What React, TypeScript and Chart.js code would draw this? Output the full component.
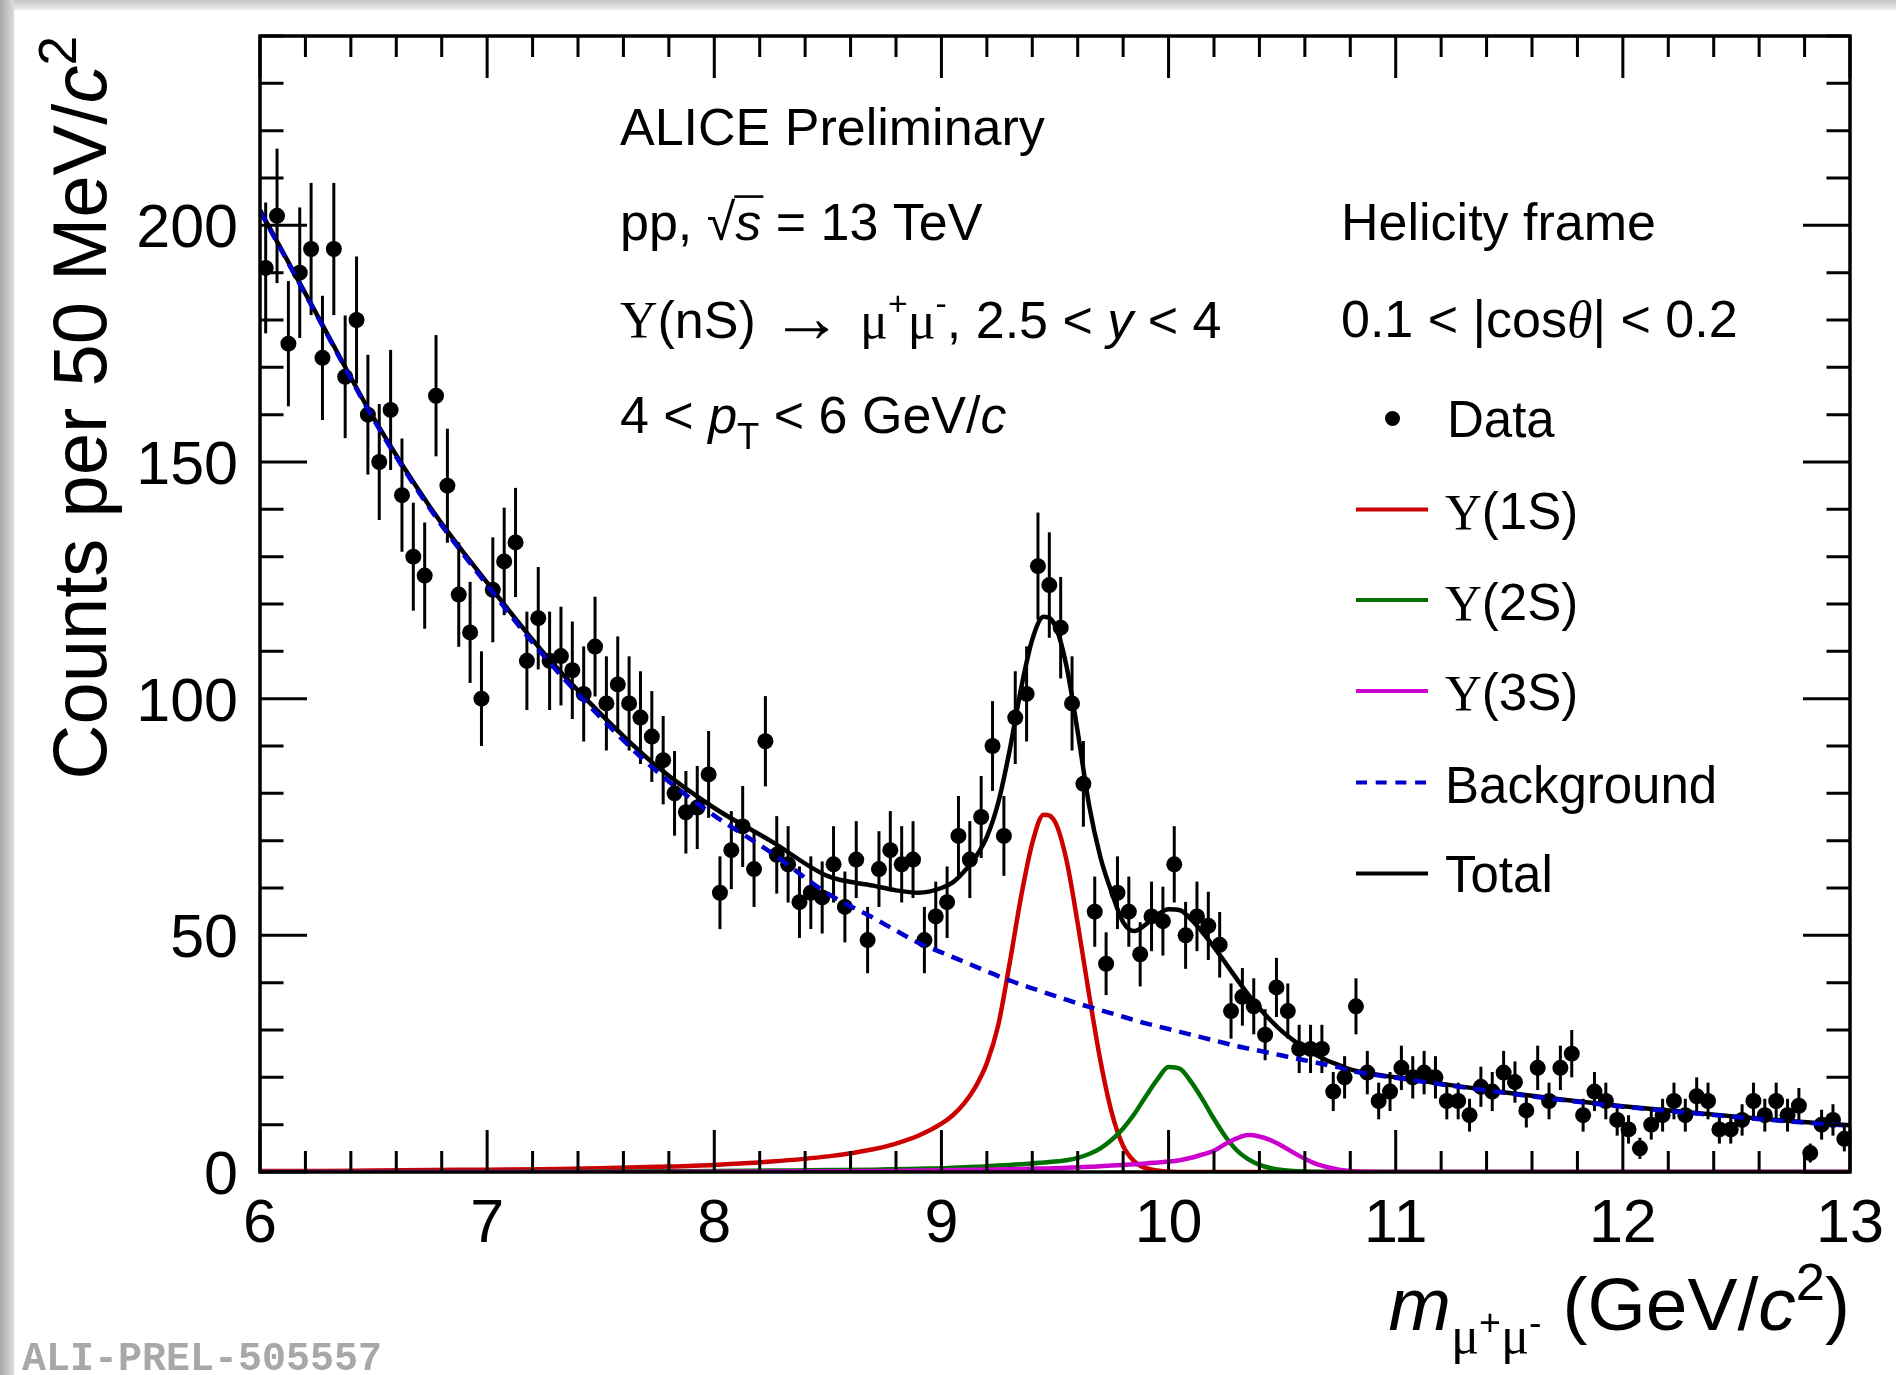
import React, { useEffect, useRef } from 'react';
import { Chart, registerables } from 'chart.js';

Chart.register(...registerables);

// ---------- data ----------
const MASS_MIN = 6;
const BIN_WIDTH = 0.05;

const counts6to7 = [191, 202, 175, 190, 195, 172, 195, 168, 180, 160, 150, 161, 143, 130, 126, 164, 145, 122, 114, 100];
const counts7to8 = [123, 129, 133, 108, 117, 108, 109, 106, 101, 111, 99, 103, 99, 96, 92, 87, 80, 76, 77, 84];
const counts8to9 = [59, 68, 73, 64, 91, 67, 65, 57, 59, 58, 65, 56, 66, 49, 64, 68, 65, 66, 49, 54];
const counts9to10 = [57, 71, 66, 75, 90, 71, 96, 101, 128, 124, 115, 99, 82, 55, 44, 59, 55, 46, 54, 53];
const counts10to11 = [65, 50, 54, 52, 48, 34, 37, 35, 29, 39, 34, 26, 26, 26, 17, 20, 35, 21, 15, 17];
const counts11to12 = [22, 20, 21, 20, 15, 15, 12, 18, 17, 21, 19, 13, 22, 15, 22, 25, 12, 17, 15, 11];
const counts12to13 = [9, 5, 10, 12, 15, 12, 16, 15, 9, 9, 11, 15, 12, 15, 12, 14, 4, 10, 11, 7];
const counts = [...counts6to7, ...counts7to8, ...counts8to9, ...counts9to10, ...counts10to11, ...counts11to12, ...counts12to13];

const curveMass = [6.0, 6.25, 6.5, 6.75, 7.0, 7.25, 7.5, 7.75, 8.0, 8.25, 8.5, 8.7, 8.8, 8.9, 9.0,
  9.05, 9.1, 9.15, 9.2, 9.25, 9.3, 9.35, 9.4, 9.45, 9.5, 9.55, 9.6, 9.65, 9.7, 9.75, 9.8, 9.85, 9.9, 9.95, 10.0,
  10.05, 10.1, 10.15, 10.2, 10.25, 10.3, 10.35, 10.4, 10.45, 10.5, 10.55, 10.6, 10.65, 10.7, 10.75, 10.8, 10.9, 11.0,
  11.25, 11.5, 11.75, 12.0, 12.25, 12.5, 12.75, 13.0];

const backgroundCurve = [203, 181, 159, 140, 124, 109, 96, 84.5, 75.3, 67.5, 58.8, 53.7, 51, 48.4, 46.4,
  45.4, 44.4, 43.4, 42.4, 41.4, 40.5, 39.6, 38.8, 38, 37.2, 36.4, 35.6, 34.9, 34.2, 33.5, 32.8, 32.1, 31.4, 30.8, 30.2,
  29.6, 29, 28.4, 27.8, 27.2, 26.6, 26.1, 25.6, 25.1, 24.6, 24.1, 23.6, 23.1, 22.6, 22.1, 21.4, 20.6, 19.9,
  18.2, 16.6, 15.1, 13.8, 12.7, 11.6, 10.6, 9.8];

const upsilon1SCurve = [0.2, 0.2, 0.3, 0.4, 0.5, 0.6, 0.8, 1.1, 1.5, 2.2, 3.3, 4.8, 6, 7.7, 10.2,
  12, 14.5, 18, 23, 31, 44, 58, 69.5, 75.5, 74, 66, 52.5, 37.5, 23.5, 12.5, 5.5, 2.2, 0.8, 0.3, 0.1,
  0, 0, 0, 0, 0, 0, 0, 0, 0, 0, 0, 0, 0, 0, 0, 0, 0, 0,
  0, 0, 0, 0, 0, 0, 0, 0];

const upsilon2SCurve = [0, 0, 0, 0, 0, 0.05, 0.1, 0.15, 0.2, 0.3, 0.4, 0.5, 0.6, 0.7, 0.8,
  0.9, 1.0, 1.1, 1.2, 1.35, 1.5, 1.65, 1.8, 2.0, 2.2, 2.5, 3, 3.8, 5.0, 6.8, 9.2, 12.3, 16.0, 19.5, 22.2,
  21.8, 19.0, 15.3, 11.2, 7.5, 4.6, 2.7, 1.5, 0.8, 0.4, 0.2, 0.1, 0.05, 0, 0, 0, 0, 0,
  0, 0, 0, 0, 0, 0, 0, 0];

const upsilon3SCurve = [0, 0, 0, 0, 0, 0, 0, 0, 0.05, 0.1, 0.15, 0.2, 0.25, 0.3, 0.35,
  0.4, 0.42, 0.45, 0.5, 0.55, 0.6, 0.65, 0.7, 0.75, 0.8, 0.9, 1.0, 1.1, 1.2, 1.35, 1.5, 1.65, 1.8, 2.0, 2.2,
  2.5, 3.0, 3.7, 4.5, 5.9, 7.1, 7.8, 7.5, 6.7, 5.5, 4.1, 2.8, 1.7, 1.0, 0.5, 0.2, 0.05, 0,
  0, 0, 0, 0, 0, 0, 0, 0];

const totalCurve = [203.2, 181.2, 159.3, 140.4, 124.5, 109.6, 96.8, 85.6, 76.9, 69.9, 62.5, 60.5, 59.5, 59, 60,
  61.2, 63.5, 66.5, 70.8, 78, 89, 102, 112.5, 117.3, 115.5, 107, 93, 77.5, 66.5, 59, 52.8, 50.9, 52.3, 54.3, 55.5,
  55.3, 53.3, 50.6, 47.5, 44.2, 40.8, 37.5, 34.6, 32, 29.7, 27.8, 26.1, 24.7, 23.5, 22.6, 21.7, 20.7, 20,
  18.3, 16.7, 15.2, 13.9, 12.8, 11.7, 10.7, 9.9];

const xTickLabels = [6, 7, 8, 9, 10, 11, 12, 13];
const yTickLabels = [0, 50, 100, 150, 200];
const X_MINOR_STEP = 0.2;
const Y_MINOR_STEP = 10;

// ---------- styles ----------
const W = 1896;
const H = 1375;
const SANS = '"Liberation Sans", Arial, Helvetica, sans-serif';
const SERIF = '"Liberation Serif", "Times New Roman", serif';
const RED = '#cc0000';
const GREEN = '#007000';
const MAGENTA = '#cc00cc';
const BLUE = '#0000cc';

type Part = { t: string; it?: boolean; serif?: boolean; fam?: string; s?: number; dy?: number; over?: boolean; dx?: number };

function setFont(ctx: CanvasRenderingContext2D, p: Part, size: number) {
  const fs = size * (p.s ?? 1);
  const fam = p.fam ?? (p.serif ? SERIF : SANS);
  ctx.font = `${p.it ? 'italic ' : ''}${fs}px ${fam}`;
  return fs;
}

function partsWidth(ctx: CanvasRenderingContext2D, parts: Part[], size: number) {
  let w = 0;
  for (const p of parts) {
    setFont(ctx, p, size);
    w += ctx.measureText(p.t).width + (p.dx ?? 0) * size;
  }
  return w;
}

function drawParts(ctx: CanvasRenderingContext2D, parts: Part[], x: number, y: number, size: number) {
  let cx = x;
  ctx.textAlign = 'left';
  ctx.textBaseline = 'alphabetic';
  for (const p of parts) {
    const fs = setFont(ctx, p, size);
    cx += (p.dx ?? 0) * size;
    const yy = y + (p.dy ?? 0) * size;
    ctx.fillText(p.t, cx, yy);
    const w = ctx.measureText(p.t).width;
    if (p.over) {
      ctx.fillRect(cx - 0.02 * size, yy - fs * 0.86, w + 0.06 * size, Math.max(2, size * 0.05));
    }
    cx += w;
  }
  return cx;
}

const decorPlugin = {
  id: 'rootDecor',
  beforeDraw(chart: any) {
    const ctx = chart.ctx as CanvasRenderingContext2D;
    ctx.save();
    ctx.fillStyle = '#ffffff';
    ctx.fillRect(0, 0, W, H);
    const g = ctx.createLinearGradient(0, 0, 14, 0);
    g.addColorStop(0, '#a9a9a9');
    g.addColorStop(1, '#dcdcdc');
    ctx.fillStyle = g;
    ctx.fillRect(0, 0, 14, H);
    const g2 = ctx.createLinearGradient(0, 0, 0, 10);
    g2.addColorStop(0, '#c4c4c4');
    g2.addColorStop(1, '#ececec');
    ctx.fillStyle = g2;
    ctx.fillRect(14, 0, W - 14, 10);
    ctx.restore();
  },
  beforeDatasetsDraw(chart: any) {
    const ctx = chart.ctx as CanvasRenderingContext2D;
    const xs = chart.scales.x;
    const ys = chart.scales.y;
    ctx.save();
    ctx.strokeStyle = '#000';
    ctx.lineWidth = 3;
    counts.forEach((v, i) => {
      const m = MASS_MIN + BIN_WIDTH * (i + 0.5);
      const e = Math.sqrt(v);
      const px = xs.getPixelForValue(m);
      ctx.beginPath();
      ctx.moveTo(px, ys.getPixelForValue(Math.max(0, v - e)));
      ctx.lineTo(px, ys.getPixelForValue(v + e));
      ctx.stroke();
    });
    ctx.restore();
  },
  afterDatasetsDraw(chart: any) {
    const ctx = chart.ctx as CanvasRenderingContext2D;
    const xs = chart.scales.x;
    const ys = chart.scales.y;
    const { left, right, top, bottom } = chart.chartArea;
    ctx.save();
    ctx.strokeStyle = '#000';
    ctx.fillStyle = '#000';
    // ticks
    ctx.lineWidth = 3;
    const xMin = xTickLabels[0];
    const xMax = xTickLabels[xTickLabels.length - 1];
    const nx = Math.round((xMax - xMin) / X_MINOR_STEP);
    for (let i = 0; i <= nx; i++) {
      const m = xMin + i * X_MINOR_STEP;
      const px = xs.getPixelForValue(m);
      const L = i % 5 === 0 ? 42 : 21;
      ctx.beginPath();
      ctx.moveTo(px, bottom);
      ctx.lineTo(px, bottom - L);
      ctx.moveTo(px, top);
      ctx.lineTo(px, top + L);
      ctx.stroke();
    }
    const yMaxVal = 240;
    for (let v = 0; v <= yMaxVal; v += Y_MINOR_STEP) {
      const py = ys.getPixelForValue(v);
      const L = v % 50 === 0 ? 47 : 23.5;
      ctx.beginPath();
      ctx.moveTo(left, py);
      ctx.lineTo(left + L, py);
      ctx.moveTo(right, py);
      ctx.lineTo(right - L, py);
      ctx.stroke();
    }
    // frame
    ctx.lineWidth = 3.5;
    ctx.strokeRect(left, top, right - left, bottom - top);

    // tick labels
    ctx.font = `61px ${SANS}`;
    ctx.textAlign = 'center';
    ctx.textBaseline = 'alphabetic';
    xTickLabels.forEach((t) => {
      ctx.fillText(String(t), xs.getPixelForValue(t), 1242);
    });
    ctx.textAlign = 'right';
    yTickLabels.forEach((t) => {
      ctx.fillText(String(t), 238, ys.getPixelForValue(t) + 22);
    });

    // axis titles
    const xTitle: Part[] = [
      { t: 'm', it: true },
      { t: 'μ', serif: true, s: 0.7, dy: 0.3 },
      { t: '+', s: 0.5, dy: 0.06 },
      { t: 'μ', serif: true, s: 0.7, dy: 0.3 },
      { t: '-', s: 0.5, dy: 0.06 },
      { t: ' (GeV/' },
      { t: 'c', it: true },
      { t: '2', s: 0.7, dy: -0.4 },
      { t: ')' },
    ];
    const xtw = partsWidth(ctx, xTitle, 75);
    drawParts(ctx, xTitle, 1850 - xtw, 1330, 75);

    const yTitle: Part[] = [
      { t: 'Counts per 50 MeV/' },
      { t: 'c', it: true },
      { t: '2', s: 0.7, dy: -0.4 },
    ];
    const ytw = partsWidth(ctx, yTitle, 76);
    ctx.save();
    ctx.translate(106, 36);
    ctx.rotate(-Math.PI / 2);
    drawParts(ctx, yTitle, -ytw, 0, 76);
    ctx.restore();

    // left text block
    const TS = 52;
    drawParts(ctx, [{ t: 'ALICE Preliminary' }], 620, 145, TS);
    drawParts(ctx, [
      { t: 'pp, ' },
      { t: '√' },
      { t: 's', it: true, over: true },
      { t: ' = 13 TeV' },
    ], 620, 240, TS);
    drawParts(ctx, [
      { t: 'Υ', serif: true },
      { t: '(nS) ' },
      { t: '→', serif: true, s: 1.4, dy: 0.07 },
      { t: ' ', dx: 0.05 },
      { t: 'μ', serif: true },
      { t: '+', s: 0.65, dy: -0.45 },
      { t: 'μ', serif: true },
      { t: '-', s: 0.65, dy: -0.45 },
      { t: ', 2.5 < ' },
      { t: 'y', it: true },
      { t: ' < 4' },
    ], 620, 338, TS);
    drawParts(ctx, [
      { t: '4 < ' },
      { t: 'p', it: true },
      { t: 'T', s: 0.7, dy: 0.3 },
      { t: ' < 6 GeV/' },
      { t: 'c', it: true },
    ], 620, 433, TS);

    // right text block
    drawParts(ctx, [{ t: 'Helicity frame' }], 1341, 240, TS);
    drawParts(ctx, [
      { t: '0.1 < |cos' },
      { t: 'θ', it: true, serif: true },
      { t: '| < 0.2' },
    ], 1341, 337, TS);

    // legend
    const LS = 51;
    const lx0 = 1356;
    const lx1 = 1428;
    const tx = 1445;
    ctx.beginPath();
    ctx.arc(1392.5, 418.5, 7.5, 0, Math.PI * 2);
    ctx.fill();
    drawParts(ctx, [{ t: 'Data' }], tx + 2, 437, LS);

    const lineEntries: { color: string; y: number; base: number; parts: Part[]; dash?: number[] }[] = [
      { color: RED, y: 509.5, base: 529, parts: [{ t: 'Υ', serif: true }, { t: '(1S)' }] },
      { color: GREEN, y: 600, base: 620, parts: [{ t: 'Υ', serif: true }, { t: '(2S)' }] },
      { color: MAGENTA, y: 691, base: 710, parts: [{ t: 'Υ', serif: true }, { t: '(3S)' }] },
      { color: BLUE, y: 782.5, base: 803, parts: [{ t: 'Background' }], dash: [11, 8.7] },
      { color: '#000', y: 873.5, base: 892, parts: [{ t: 'Total' }] },
    ];
    lineEntries.forEach((e) => {
      ctx.save();
      ctx.strokeStyle = e.color;
      ctx.lineWidth = 4;
      ctx.setLineDash(e.dash ?? []);
      ctx.beginPath();
      ctx.moveTo(lx0, e.y);
      ctx.lineTo(lx1, e.y);
      ctx.stroke();
      ctx.restore();
      ctx.fillStyle = '#000';
      drawParts(ctx, e.parts, tx, e.base, LS);
    });

    // watermark
    ctx.fillStyle = '#a8a8a8';
    ctx.font = `bold 40px "Liberation Mono", "Courier New", monospace`;
    ctx.textAlign = 'left';
    ctx.fillText('ALI-PREL-505557', 22, 1370);

    ctx.restore();
  },
};

function curveData(values: number[]) {
  return curveMass.map((m, i) => ({ x: m, y: values[i] }));
}

export default function App() {
  const ref = useRef<HTMLCanvasElement>(null);

  useEffect(() => {
    const canvas = ref.current;
    if (!canvas) return;
    const dataPoints = counts.map((v, i) => ({ x: MASS_MIN + BIN_WIDTH * (i + 0.5), y: v }));
    const lineCommon = {
      type: 'line' as const,
      showLine: true,
      pointRadius: 0,
      borderWidth: 4.5,
      fill: false,
      cubicInterpolationMode: 'monotone' as const,
    };
    const chart = new Chart(canvas, {
      type: 'scatter',
      data: {
        datasets: [
          {
            label: 'Data',
            data: dataPoints,
            pointRadius: 8,
            pointBackgroundColor: '#000',
            pointBorderWidth: 0,
            showLine: false,
            order: 10,
          } as any,
          { ...lineCommon, label: 'Total', data: curveData(totalCurve), borderColor: '#000', order: 6 },
          { ...lineCommon, label: 'Υ(1S)', data: curveData(upsilon1SCurve), borderColor: RED, order: 5 },
          { ...lineCommon, label: 'Υ(2S)', data: curveData(upsilon2SCurve), borderColor: GREEN, order: 4 },
          { ...lineCommon, label: 'Υ(3S)', data: curveData(upsilon3SCurve), borderColor: MAGENTA, order: 3 },
          { ...lineCommon, label: 'Background', data: curveData(backgroundCurve), borderColor: BLUE, borderDash: [12, 8], order: 2 },
        ],
      },
      options: {
        animation: false,
        responsive: false,
        devicePixelRatio: 1,
        events: [],
        layout: { padding: { left: 260, top: 36, right: 46, bottom: 203 } },
        scales: {
          x: { type: 'linear', min: 6, max: 13, display: false },
          y: { type: 'linear', min: 0, max: 240, display: false },
        },
        plugins: {
          legend: { display: false },
          tooltip: { enabled: false },
        },
      },
      plugins: [decorPlugin],
    });
    return () => chart.destroy();
  }, []);

  return (
    <div style={{ position: 'fixed', left: 0, top: 0, width: W, height: H, background: '#fff' }}>
      <canvas ref={ref} width={W} height={H} style={{ display: 'block', width: W, height: H }} />
    </div>
  );
}
